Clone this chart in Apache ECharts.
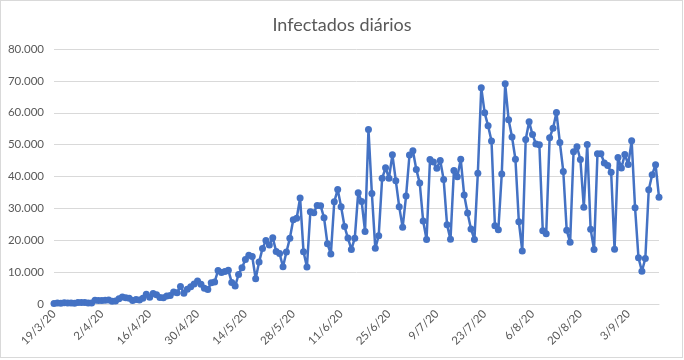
<!DOCTYPE html>
<html>
<head>
<meta charset="utf-8">
<script src="https://cdn.jsdelivr.net/npm/echarts@6/dist/echarts.min.js"></script>
<style>
  html, body { margin: 0; padding: 0; background: #fff; }
  #wrap { position: relative; width: 684px; height: 360px; }
  #chart { position: absolute; left: 0; top: 0; width: 684px; height: 360px; }
  #frame { position: absolute; left: 0; top: 0; width: 683px; height: 358px; box-sizing: border-box; border: 1px solid #d9d9d9; pointer-events: none; }
</style>
</head>
<body>
<div id="wrap"><div id="chart"></div><div id="frame"></div></div>
<script>
const titleText = 'Infectados diários';

const categories = [
  '19/3/20','20/3/20','21/3/20','22/3/20','23/3/20','24/3/20','25/3/20','26/3/20','27/3/20','28/3/20','29/3/20','30/3/20','31/3/20',
  '1/4/20','2/4/20','3/4/20','4/4/20','5/4/20','6/4/20','7/4/20','8/4/20','9/4/20','10/4/20','11/4/20','12/4/20','13/4/20','14/4/20','15/4/20',
  '16/4/20','17/4/20','18/4/20','19/4/20','20/4/20','21/4/20','22/4/20','23/4/20','24/4/20','25/4/20','26/4/20','27/4/20','28/4/20','29/4/20','30/4/20',
  '1/5/20','2/5/20','3/5/20','4/5/20','5/5/20','6/5/20','7/5/20','8/5/20','9/5/20','10/5/20','11/5/20','12/5/20','13/5/20','14/5/20','15/5/20',
  '16/5/20','17/5/20','18/5/20','19/5/20','20/5/20','21/5/20','22/5/20','23/5/20','24/5/20','25/5/20','26/5/20','27/5/20','28/5/20','29/5/20','30/5/20','31/5/20',
  '1/6/20','2/6/20','3/6/20','4/6/20','5/6/20','6/6/20','7/6/20','8/6/20','9/6/20','10/6/20','11/6/20','12/6/20','13/6/20','14/6/20','15/6/20',
  '16/6/20','17/6/20','18/6/20','19/6/20','20/6/20','21/6/20','22/6/20','23/6/20','24/6/20','25/6/20','26/6/20','27/6/20','28/6/20','29/6/20','30/6/20',
  '1/7/20','2/7/20','3/7/20','4/7/20','5/7/20','6/7/20','7/7/20','8/7/20','9/7/20','10/7/20','11/7/20','12/7/20','13/7/20','14/7/20','15/7/20',
  '16/7/20','17/7/20','18/7/20','19/7/20','20/7/20','21/7/20','22/7/20','23/7/20','24/7/20','25/7/20','26/7/20','27/7/20','28/7/20','29/7/20','30/7/20','31/7/20',
  '1/8/20','2/8/20','3/8/20','4/8/20','5/8/20','6/8/20','7/8/20','8/8/20','9/8/20','10/8/20','11/8/20','12/8/20','13/8/20','14/8/20','15/8/20',
  '16/8/20','17/8/20','18/8/20','19/8/20','20/8/20','21/8/20','22/8/20','23/8/20','24/8/20','25/8/20','26/8/20','27/8/20','28/8/20','29/8/20','30/8/20','31/8/20',
  '1/9/20','2/9/20','3/9/20','4/9/20','5/9/20','6/9/20','7/9/20','8/9/20','9/9/20','10/9/20','11/9/20','12/9/20'
];

const marchValues = [193, 283, 224, 418, 345, 310, 232, 482, 502, 487, 352, 323, 1138];
const aprilValues = [1119, 1074, 1146, 1222, 852, 926, 1661, 2210, 1930, 1781, 1089, 1442, 1261, 1832, 3058,
  2105, 3257, 2917, 2055, 1927, 2498, 2678, 3735, 3503, 5514, 3379, 4613, 5385, 6276, 7218];
const mayValues = [6209, 4970, 4588, 6633, 6935, 10503, 9888, 10222, 10611, 6760, 5632, 9258, 11385, 13944, 15305,
  14919, 7938, 13140, 17408, 19951, 18508, 20803, 16508, 15813, 11687, 16324, 20599, 26417, 26928, 33274, 16409];
const juneValues = [11598, 28936, 28633, 30925, 30830, 27075, 18912, 15654, 32091, 35900, 30500, 24300, 20700, 17110, 20647,
  34918, 32188, 22765, 54771, 34666, 17459, 21432, 39436, 42725, 39483, 46860, 38693, 30476, 24052, 33846];
const julyValues = [46712, 48105, 42223, 37923, 26051, 20229, 45305, 44571, 42619, 45048, 39023, 24831, 20286, 41857, 39924,
  45403, 34177, 28532, 23529, 20257, 41008, 67860, 59961, 55891, 51147, 24578, 23284, 40816, 69074, 57837, 52383];
const augustValues = [45392, 25800, 16641, 51603, 57152, 53139, 50230, 49970, 23010, 22048, 52160, 55155, 60091, 50644, 41576,
  23101, 19373, 47784, 49298, 45323, 30355, 50032, 23421, 17078, 47134, 47161, 44235, 43412, 41350, 17200, 45961];
const septemberValues = [42659, 46934, 43773, 51194, 30168, 14521, 10273, 14279, 35816, 40557, 43718, 33523];

const dailyCases = [].concat(marchValues, aprilValues, mayValues, juneValues, julyValues, augustValues, septemberValues);

const yTicks = [0, 10000, 20000, 30000, 40000, 50000, 60000, 70000, 80000];

function fmtThousands(v) {
  return String(v).replace(/\B(?=(\d{3})+(?!\d))/g, '.');
}

const chart = echarts.init(document.getElementById('chart'), null, { renderer: 'canvas' });
chart.setOption({
  animation: false,
  backgroundColor: '#ffffff',
  textStyle: { fontFamily: 'Lato, "Open Sans", sans-serif' },
  title: {
    text: titleText,
    left: 'center',
    top: 11,
    textStyle: { fontFamily: 'Lato, sans-serif', fontWeight: 400, fontSize: 18, color: '#595959' }
  },
  grid: { left: 54, right: 25, top: 49, bottom: 56, containLabel: false },
  xAxis: {
    type: 'category',
    data: categories,
    boundaryGap: false,
    axisLine: { show: true, lineStyle: { color: '#d9d9d9', width: 1 } },
    axisTick: { show: false },
    axisLabel: {
      interval: 13,
      rotate: 45,
      margin: 8,
      color: '#595959',
      fontSize: 11.5,
      fontFamily: 'Lato, sans-serif'
    },
    splitLine: { show: false }
  },
  yAxis: {
    type: 'value',
    min: yTicks[0],
    max: yTicks[yTicks.length - 1],
    interval: 10000,
    axisLine: { show: false },
    axisTick: { show: false },
    axisLabel: {
      margin: 10,
      color: '#595959',
      fontSize: 11.5,
      fontFamily: 'Lato, sans-serif',
      formatter: function (v) { return fmtThousands(v); }
    },
    splitLine: { show: true, lineStyle: { color: '#d9d9d9', width: 1 } }
  },
  series: [{
    type: 'line',
    data: dailyCases,
    symbol: 'circle',
    symbolSize: 7,
    showAllSymbol: true,
    itemStyle: { color: '#4472C4' },
    lineStyle: { color: '#4472C4', width: 2.5 }
  }]
});
</script>
</body>
</html>
